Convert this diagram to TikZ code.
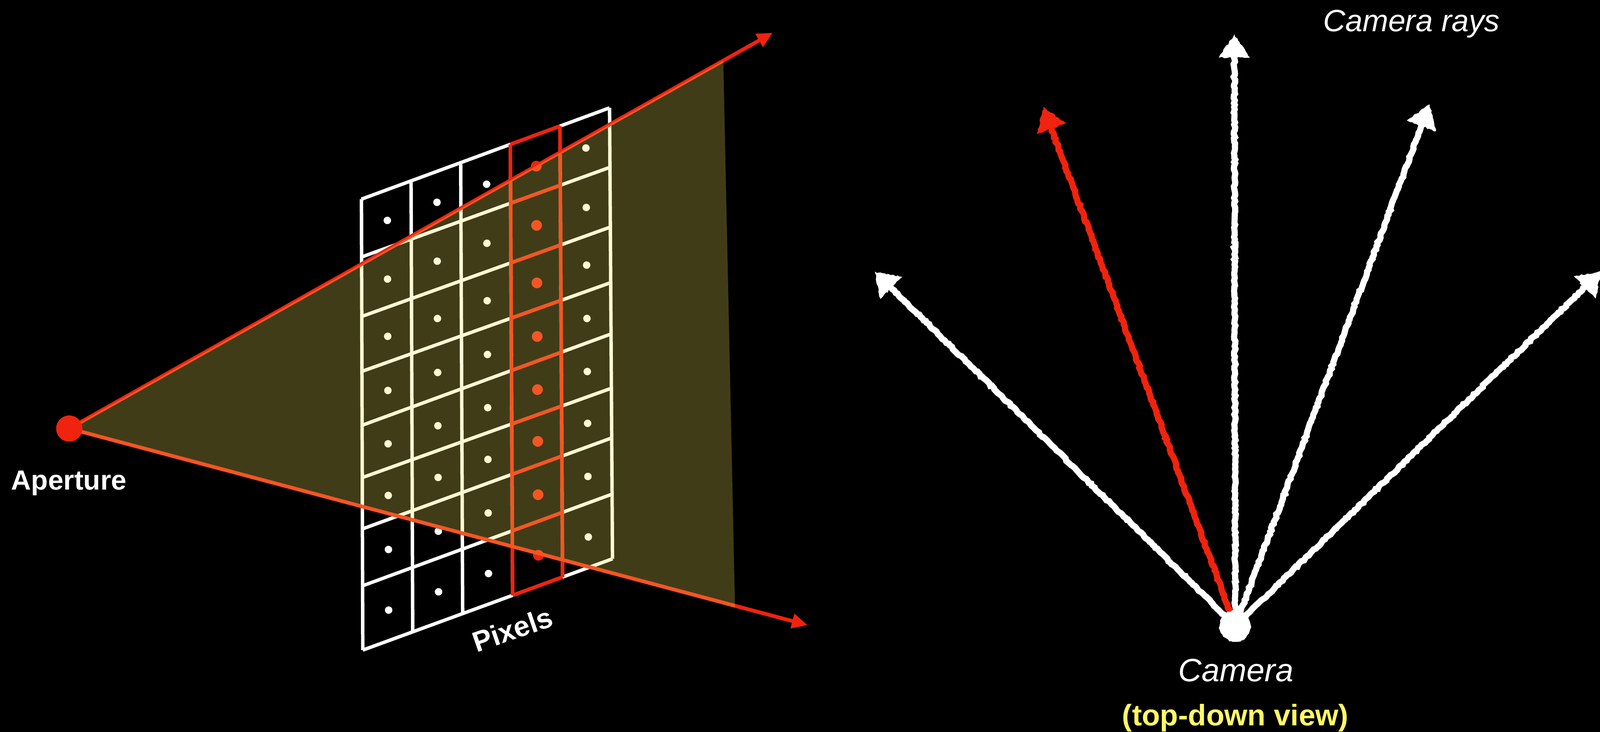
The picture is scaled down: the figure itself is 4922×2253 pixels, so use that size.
\documentclass[tikz,border=0pt]{standalone}
\usepackage{fontspec}
\setmainfont{Liberation Sans}
\usepackage{xcolor}
\usepackage{tikz}
\usetikzlibrary{arrows.meta,calc,decorations.pathmorphing}
\definecolor{hot}{HTML}{F0230E}
\definecolor{haze}{HTML}{FEEB60}
\definecolor{note}{HTML}{FFFB66}
\tikzset{
  cell/.style={draw=white, line width=.105cm},
  hotcell/.style={draw=hot, line width=.11cm},
  pixdot/.style={circle, fill=white, inner sep=0pt, minimum size=.23cm, xshift=.03cm, yshift=-.04cm},
  hotdot/.style={circle, fill=hot, inner sep=0pt, minimum size=.33cm, xshift=.03cm, yshift=-.04cm},
  ray/.style={draw=hot, line width=.115cm, -{Triangle[length=.48cm,width=.44cm]}},
  rough/.style={decorate, decoration={random steps, segment length=.07cm, amplitude=.024cm}},
  chalk/.style={rough, line width=.19cm},
  chalkhead/.style={rough, line width=.01cm},
  lbl/.style={text=white, anchor=base, inner sep=0pt}
}
\begin{document}
\begin{tikzpicture}[x=.01cm,y=-.01cm]
\clip (0,0) rectangle (4922,2253);
\fill[black] (0,0) rectangle (4922,2253);
\foreach \row/\ly/\ry in {0/613/332,1/791/515,2/974/699,3/1143/870,4/1309/1028,5/1470/1195,6/1628/1348,7/1803/1521,8/2001/1720} {
  \coordinate (L\row) at ({1110+0.003*\ly},\ly);
  \coordinate (R\row) at ({1873+0.0065*\ry},\ry);
  \foreach \c in {0,...,5} \coordinate (P\row-\c) at ($(L\row)!\c*0.2!(R\row)$);
  \draw[cell] (L\row) -- (R\row);
}
\foreach \c in {0,...,5} \draw[cell] (P0-\c) -- (P8-\c);
\foreach \row [evaluate=\row as \nxt using int(\row+1)] in {0,...,7} {
  \foreach \c/\d in {0/1,1/2,2/3,4/5} \node[pixdot] (dot\row-\c) at ($(P\row-\c)!.5!(P\nxt-\d)$) {};
  \node[hotdot] (dot\row-3) at ($(P\row-3)!.5!(P\nxt-4)$) {};
}
\foreach \row in {0,...,8} \draw[hotcell] (P\row-3) -- (P\row-4);
\draw[hotcell] (P0-3) -- (P8-3);
\draw[hotcell] (P0-4) -- (P8-4);
\node[circle, fill=hot, inner sep=0pt, minimum size=.8cm] (aperture) at (213,1319) {};
\coordinate (raytop) at (2377,101);
\coordinate (raylow) at (2484,1924);
\draw[ray] (aperture.center) -- (raytop);
\draw[ray] (aperture.center) -- (raylow);
\fill[haze, opacity=.26] (213,1319) -- (2225,187) -- (2261,1870) -- (213,1324) -- cycle;
\node[circle, fill=hot, inner sep=0pt, minimum size=.8cm] at (aperture.center) {};
\node[lbl, font=\fontsize{24.2}{28}\selectfont\bfseries] (aplabel) at (212,1508) {Aperture};
\node[lbl, font=\fontsize{25}{28}\selectfont\bfseries, rotate=19, anchor=center] (pixlabel) at (1576,1937) {Pixels};
\coordinate (camera) at (3800,1927);
\coordinate (rayfarleft) at (2692,837);
\coordinate (rayup) at (3797,107);
\coordinate (rayright) at (4397,322);
\coordinate (rayfarright) at (4925,836);
\coordinate (rayhot) at (3210,330);
\foreach \tipname/\col in {rayfarleft/white,rayup/white,rayright/white,rayfarright/white,rayhot/hot} {
  \coordinate (\tipname foot) at ($(\tipname)!.62cm!(camera)$);
  \draw[chalk, draw=\col] (camera) -- (\tipname foot);
  \filldraw[chalkhead, draw=\col, fill=\col] (\tipname) -- ($(\tipname)!.84cm!34:(camera)$) -- ($(\tipname)!.84cm!-34:(camera)$) -- cycle;
}
\node[circle, fill=white, inner sep=0pt, minimum size=.95cm, draw=white, rough] (camdot) at (camera) {};
\node[lbl, font=\fontsize{28.3}{32}\selectfont\itshape] (camlabel) at (3802,2098) {Camera};
\node[lbl, font=\fontsize{27}{30}\selectfont\itshape] (raylabel) at (4342,97) {Camera rays};
\node[lbl, text=note, font=\fontsize{26}{30}\selectfont\bfseries] (viewlabel) at (3800,2233) {(top-down view)};
\end{tikzpicture}
\end{document}
